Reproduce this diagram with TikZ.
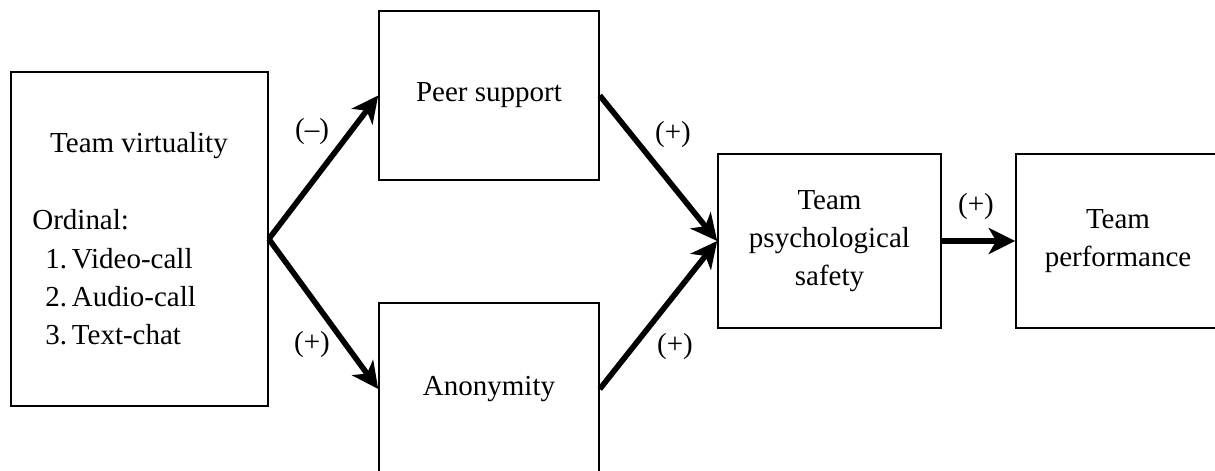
\documentclass[tikz,border=0pt]{standalone}
\usepackage{fontspec}
\setmainfont{Liberation Serif}
\usetikzlibrary{arrows.meta,positioning}
\newcommand{\mainsize}{\fontsize{16.5pt}{21.6pt}\selectfont}

\begin{document}
\begin{tikzpicture}[
  x=0.2mm,y=-0.2mm,
  box/.style={draw,line width=0.9pt,inner sep=0pt,align=center,font=\mainsize,minimum width=44mm,minimum height=34mm},
  lbl/.style={inner sep=0pt,font=\mainsize},
  arr/.style={-{Stealth[length=5.3mm,width=5.2mm,inset=1.5mm]},line width=3.2pt}
]
\useasboundingbox (0,0) rectangle (1215,471);
% boxes
\node[box,minimum width=51.4mm,minimum height=66.8mm] (tv) at (139.5,239) {};
\node[box,minimum height=33.8mm] (peer) at (489,95.5) {Peer support};
\node[box,minimum height=34.4mm] (anon) at (489,389) {Anonymity};
\node[box,minimum width=44.6mm,minimum height=34.8mm] (safety) at (829.5,241) {Team\\psychological\\safety};
\node[box,minimum width=40.8mm,minimum height=34.8mm] (perf) at (1118,241) {Team\\performance};
% text of the first box
\node[lbl,anchor=base] (tvname) at (139,152) {Team virtuality};
\node[lbl,anchor=base west] (ord) at (32,229) {Ordinal:};
\node[lbl,anchor=base west] (item1) at (45,268) {1.\,Video-call};
\node[lbl,anchor=base west] (item2) at (45,306) {2.\,Audio-call};
\node[lbl,anchor=base west] (item3) at (45,344) {3.\,Text-chat};
% paths
\draw[arr] (tv.east) -- (peer.west);
\draw[arr] (tv.east) -- (anon.west);
\draw[arr] (peer.east) -- (safety.west);
\draw[arr] (anon.east) -- (safety.west);
\draw[arr] (safety.east) -- (perf.west);
% signs
\node[lbl] (s1) at (312,132) {(--)};
\node[lbl] (s2) at (312,345) {(+)};
\node[lbl] (s3) at (673,135) {(+)};
\node[lbl] (s4) at (675,347) {(+)};
\node[lbl] (s5) at (976,207) {(+)};
\end{tikzpicture}
\end{document}
